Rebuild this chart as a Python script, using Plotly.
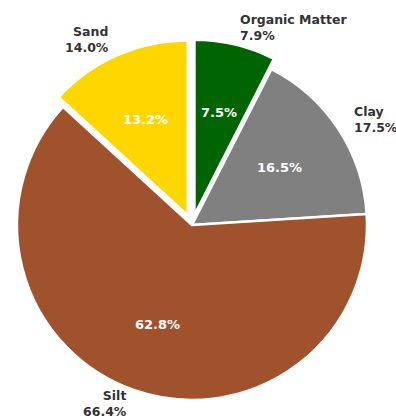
import math
import plotly.graph_objects as go

# Soil composition
categories = ["Organic Matter", "Clay", "Silt", "Sand"]
shares = [7.5, 16.5, 62.8, 13.2]          # slice sizes (percent labels inside)
label_values = [7.9, 17.5, 66.4, 14.0]    # values printed next to the names
colors = ["#006400", "#808080", "#A0522D", "#FFD700"]
pulls = [0.06, 0.0, 0.0, 0.06]

# Figure geometry (pixels)
W, H = 396, 420
CX, CY, R = 192, 225, 175   # pie centre (measured from top) and radius

max_pull = max(pulls)
half = R * (1 + max_pull)
dom_x = [(CX - half) / W, (CX + half) / W]
dom_y = [(H - CY - half) / H, (H - CY + half) / H]

fig = go.Figure(
    go.Pie(
        labels=categories,
        values=shares,
        sort=False,
        direction="clockwise",
        rotation=0,
        pull=pulls,
        marker=dict(colors=colors, line=dict(color="white", width=2.5)),
        textinfo="none",
        hoverinfo="label+percent",
        showlegend=False,
        domain=dict(x=dom_x, y=dom_y),
    )
)

total = sum(shares)
annotations = []
cum = 0.0
for name, v, lv, p in zip(categories, shares, label_values, pulls):
    mid = math.radians(90 - (cum + v / 2) / total * 360)
    cum += v
    c, s = math.cos(mid), math.sin(mid)

    # percentage inside the wedge
    d_in = (p + 0.6) * R
    annotations.append(dict(
        x=(CX + d_in * c) / W, y=(H - CY + d_in * s) / H,
        xref="paper", yref="paper", showarrow=False,
        xanchor="center", yanchor="middle",
        text=f"<b>{v / total * 100:.1f}%</b>",
        font=dict(family="DejaVu Sans", size=13, color="white"),
    ))

    # name and value outside the wedge
    d_out = (p + 1.1) * R
    right_side = c > 0
    annotations.append(dict(
        x=(CX + d_out * c) / W, y=(H - CY + d_out * s) / H,
        xref="paper", yref="paper", showarrow=False,
        xanchor="left" if right_side else "right", yanchor="middle",
        align="left" if right_side else "right",
        borderpad=0,
        yshift=3 if s < -0.9 else 0,   # keep the bottom label inside the page
        text=f"<b>{name}<br>{lv:.1f}%</b>",
        font=dict(family="DejaVu Sans", size=12.5, color="#333333"),
    ))

fig.update_layout(
    width=W, height=H,
    margin=dict(l=0, r=0, t=0, b=0),
    paper_bgcolor="white",
    plot_bgcolor="white",
    annotations=annotations,
)

fig.write_html("out.html")
